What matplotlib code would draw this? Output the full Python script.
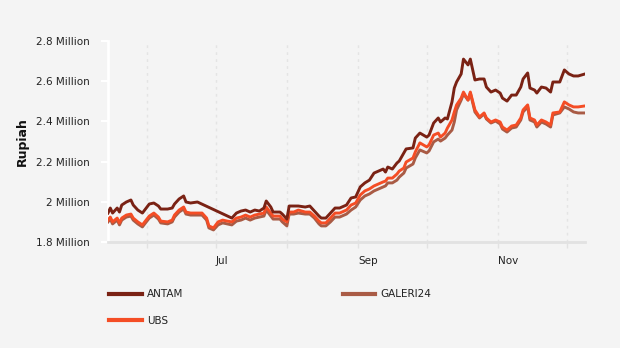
import matplotlib
matplotlib.use("Agg")
import matplotlib.pyplot as plt
import matplotlib.dates as mdates
from matplotlib.ticker import FuncFormatter, FixedLocator
import numpy as np
import pandas as pd

dates = ["2025-05-15","2025-05-16","2025-05-17","2025-05-19","2025-05-20","2025-05-21","2025-05-23","2025-05-25",
         "2025-05-26","2025-05-28","2025-05-30","2025-05-31","2025-06-02","2025-06-04","2025-06-06","2025-06-07",
         "2025-06-10","2025-06-12","2025-06-13","2025-06-15","2025-06-17","2025-06-18","2025-06-20","2025-06-23",
         "2025-06-25","2025-06-27","2025-06-28","2025-06-30","2025-07-02","2025-07-04","2025-07-06","2025-07-08",
         "2025-07-10","2025-07-12","2025-07-14","2025-07-16","2025-07-18","2025-07-20","2025-07-22","2025-07-23",
         "2025-07-25","2025-07-26","2025-07-29","2025-07-30","2025-08-01","2025-08-02","2025-08-04","2025-08-06",
         "2025-08-09","2025-08-11","2025-08-13","2025-08-15","2025-08-16","2025-08-18","2025-08-20","2025-08-22",
         "2025-08-24","2025-08-27","2025-08-29","2025-08-31","2025-09-02","2025-09-04","2025-09-06","2025-09-08",
         "2025-09-10","2025-09-12","2025-09-13","2025-09-14","2025-09-16","2025-09-18","2025-09-19","2025-09-21",
         "2025-09-22","2025-09-25","2025-09-26","2025-09-28","2025-10-01","2025-10-02","2025-10-04","2025-10-06",
         "2025-10-07","2025-10-09","2025-10-10","2025-10-12","2025-10-13","2025-10-14","2025-10-16","2025-10-17",
         "2025-10-19","2025-10-20","2025-10-22","2025-10-24","2025-10-26","2025-10-27","2025-10-29","2025-10-31",
         "2025-11-02","2025-11-03","2025-11-05","2025-11-07","2025-11-09","2025-11-11","2025-11-12","2025-11-14",
         "2025-11-15","2025-11-17","2025-11-18","2025-11-20","2025-11-22","2025-11-24","2025-11-25","2025-11-28",
         "2025-11-30","2025-12-02","2025-12-04","2025-12-06","2025-12-09"]

nan = float("nan")
# values in million rupiah
antam = [1.944,1.969,1.944,1.969,1.949,1.984,1.999,2.009,1.984,1.959,1.944,1.959,1.989,1.994,1.979,1.964,
         1.964,1.969,1.989,2.014,2.029,1.999,1.994,1.999,nan,nan,nan,nan,nan,nan,nan,1.919,
         1.944,1.954,1.959,1.949,1.959,1.954,1.969,2.004,1.974,1.949,1.949,1.939,1.914,1.979,1.979,1.979,
         1.974,1.979,1.954,1.929,1.919,1.919,1.944,1.969,1.969,1.984,2.019,2.024,2.074,2.094,2.108,2.143,
         2.153,2.163,2.148,2.173,2.163,2.193,2.203,2.243,2.263,2.268,2.317,2.342,2.322,2.332,2.392,2.417,
         2.397,2.417,2.412,2.497,2.566,2.596,2.636,2.710,2.681,2.710,2.606,2.611,2.611,2.571,2.546,2.556,
         2.541,2.516,2.501,2.531,2.531,2.571,2.611,2.641,2.566,2.556,2.541,2.571,2.566,2.546,2.596,2.596,
         2.656,2.636,2.626,2.626,2.636]

galeri24 = [1.900,1.914,1.890,1.909,1.885,1.909,1.924,1.929,1.909,1.890,1.875,1.890,1.919,1.934,1.914,1.895,
            1.890,1.900,1.924,1.949,1.964,1.939,1.934,1.934,1.934,1.909,1.870,1.860,1.885,1.895,1.890,1.885,
            1.904,1.909,1.919,1.909,1.919,1.924,1.929,1.959,1.929,1.914,1.914,1.900,1.880,1.939,1.939,1.944,
            1.939,1.939,1.919,1.890,1.880,1.880,1.900,1.924,1.924,1.939,1.959,1.974,2.009,2.029,2.039,2.054,
            2.064,2.074,2.079,2.094,2.094,2.108,2.123,2.143,2.168,2.188,2.218,2.258,2.243,2.253,2.298,2.312,
            2.302,2.317,2.332,2.357,2.397,2.457,2.506,2.536,2.506,2.541,2.447,2.417,2.437,2.412,2.392,2.402,
            2.387,2.362,2.347,2.367,2.372,2.407,2.447,2.472,2.407,2.397,2.372,2.397,2.387,2.372,2.432,2.442,
            2.472,2.462,2.447,2.442,2.442]

ubs = [1.909,1.924,1.900,1.919,1.895,1.919,1.934,1.939,1.919,1.900,1.885,1.900,1.929,1.944,1.924,1.904,
       1.900,1.909,1.934,1.959,1.974,1.949,1.944,1.944,1.944,1.919,1.880,1.870,1.900,1.909,1.904,1.900,
       1.919,1.924,1.934,1.924,1.934,1.939,1.944,1.974,1.944,1.929,1.929,1.914,1.900,1.949,1.949,1.959,
       1.949,1.949,1.929,1.904,1.895,1.895,1.919,1.944,1.944,1.959,1.984,1.994,2.034,2.054,2.064,2.079,
       2.089,2.099,2.103,2.118,2.118,2.138,2.153,2.168,2.198,2.218,2.248,2.293,2.273,2.283,2.332,2.342,
       2.322,2.342,2.367,2.407,2.447,2.482,2.516,2.546,2.506,2.546,2.457,2.422,2.442,2.417,2.397,2.407,
       2.397,2.372,2.357,2.377,2.382,2.417,2.457,2.482,2.417,2.407,2.382,2.407,2.397,2.382,2.442,2.447,
       2.497,2.482,2.472,2.472,2.477]

series_names = ["ANTAM", "GALERI24", "UBS"]
colors = {"ANTAM": "#7a2214", "GALERI24": "#a95b45", "UBS": "#f44d25"}
y_ticks = [1.8, 2.0, 2.2, 2.4, 2.6, 2.8]
x_label_months = ["Jul", "Sep", "Nov"]

bg = "#f4f4f4"
plt.rcParams["font.family"] = ["DejaVu Sans"]
fig = plt.figure(figsize=(6.2, 3.48), dpi=100, facecolor=bg)
ax = fig.add_axes([108/620, 1-242/348, (585-108)/620, (242-41)/348], facecolor=bg)

d = pd.to_datetime(dates)
data = {"ANTAM": np.array(antam), "GALERI24": np.array(galeri24), "UBS": np.array(ubs)}
handles = {}
for name in ["GALERI24", "UBS", "ANTAM"]:
    v = data[name]
    m = ~np.isnan(v)
    h, = ax.plot(d[m], v[m], color=colors[name], lw=2.1, solid_joinstyle="round", label=name, zorder=3)
    handles[name] = h

ax.set_xlim(d[0], d[-1])
ax.set_ylim(1.8, 2.8)

# y axis
ax.yaxis.set_major_locator(FixedLocator(y_ticks))
ax.yaxis.set_major_formatter(FuncFormatter(lambda v, p: (f"{v:g}") + " Million"))
ax.tick_params(axis="y", colors="white", length=5, width=1.5, labelsize=7.5, labelcolor="#222222", pad=8)
ax.set_ylabel("Rupiah", fontsize=9, fontweight="bold", color="#111111", labelpad=5)

# x axis
months = pd.date_range("2025-06-01", "2025-12-01", freq="MS")
ax.xaxis.set_major_locator(FixedLocator(mdates.date2num(months)))
ax.xaxis.set_major_formatter(FuncFormatter(
    lambda v, p: mdates.num2date(v).strftime("%b") if mdates.num2date(v).strftime("%b") in x_label_months else ""))
ax.tick_params(axis="x", colors="#e2e2e2", length=4, width=1, labelsize=7.5, labelcolor="#222222", pad=6)
for lbl in ax.get_xticklabels():
    lbl.set_horizontalalignment("left")
ax.grid(axis="x", color="#e4e4e4", linestyle=(0, (2, 3)), linewidth=1)
ax.set_axisbelow(True)

for s in ["top", "right"]:
    ax.spines[s].set_visible(False)
ax.spines["left"].set_color("white")
ax.spines["left"].set_linewidth(2)
ax.spines["bottom"].set_color("#e2e2e2")
ax.spines["bottom"].set_linewidth(2)

leg = fig.legend([handles["ANTAM"], handles["UBS"], handles["GALERI24"]],
                 ["ANTAM", "UBS", "GALERI24"], ncol=2, loc="upper left",
                 bbox_to_anchor=(100/620, 1-280/348), frameon=False, fontsize=7.5,
                 handlelength=3.1, handletextpad=0.5, columnspacing=15.3, labelspacing=1.6)
for t in leg.get_texts():
    t.set_color("#222222")
for l in leg.get_lines():
    l.set_linewidth(3)

fig.savefig("out.png", dpi=100, facecolor=bg)
